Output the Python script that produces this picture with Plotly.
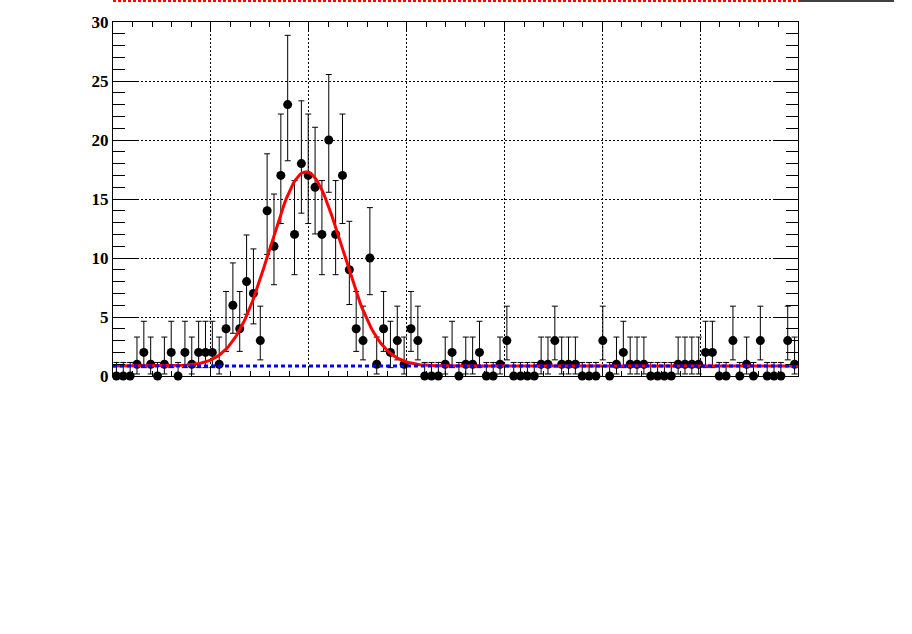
import numpy as np
import plotly.graph_objects as go

# ---- data -------------------------------------------------------------
X_MIN, X_MAX, N_BINS = 0.0, 7.0, 100
counts = [0, 0, 0, 1, 2, 1, 0, 1, 2, 0,
          2, 1, 2, 2, 2, 1, 4, 6, 4, 8,
          7, 3, 14, 11, 17, 23, 12, 18, 17, 16,
          12, 20, 12, 17, 9, 4, 3, 10, 1, 4,
          2, 3, 1, 4, 3, 0, 0, 0, 1, 2,
          0, 1, 1, 2, 0, 0, 1, 3, 0, 0,
          0, 0, 1, 1, 3, 1, 1, 1, 0, 0,
          0, 3, 0, 1, 2, 1, 1, 1, 0, 0,
          0, 0, 1, 1, 1, 1, 2, 2, 0, 0,
          3, 0, 1, 0, 3, 0, 0, 0, 3, 1]

# Poisson (Garwood 68%) interval table indexed by count
poisson_lo = [0.0, 0.173, 0.708, 1.367, 2.086, 2.840, 3.620, 4.419, 5.232, 6.057,
              6.891, 7.734, 8.585, 9.441, 10.30, 11.17, 12.04, 12.92, 13.80, 14.68,
              15.57, 16.45, 17.35, 18.24]
poisson_hi = [1.148, 3.300, 4.638, 5.918, 7.163, 8.382, 9.584, 10.77, 11.95, 13.11,
              14.27, 15.42, 16.56, 17.70, 18.83, 19.96, 21.08, 22.20, 23.32, 24.44,
              25.55, 26.66, 27.76, 28.87]

# fit: gaussian + constant
fit_const = 0.85
fit_amp = 16.45
fit_mean = 1.972
fit_sigma = 0.369

y_ticks = [0, 5, 10, 15, 20, 25, 30]
y_tick_labels = ["0", "5", "10", "15", "20", "25", "30"]

# ---- derived ----------------------------------------------------------
edges = np.linspace(X_MIN, X_MAX, N_BINS + 1)
centers = 0.5 * (edges[:-1] + edges[1:])
err_up = [poisson_hi[n] - n for n in counts]
err_dn = [n - poisson_lo[n] for n in counts]

xf = np.linspace(X_MIN, X_MAX, 400)
yf = fit_const + fit_amp * np.exp(-0.5 * ((xf - fit_mean) / fit_sigma) ** 2)

fig = go.Figure()
fig.add_trace(go.Scatter(
    x=centers, y=counts, mode="markers",
    marker=dict(symbol="circle", size=9, color="black"),
    error_y=dict(type="data", symmetric=False, array=err_up, arrayminus=err_dn,
                 color="black", thickness=1, width=3),
    cliponaxis=False, showlegend=False, hoverinfo="skip"))
fig.add_trace(go.Scatter(
    x=xf, y=yf, mode="lines", line=dict(color="#ff0000", width=3),
    showlegend=False, hoverinfo="skip"))
fig.add_trace(go.Scatter(
    x=[X_MIN, X_MAX], y=[fit_const, fit_const], mode="lines",
    line=dict(color="#0000ff", width=3, dash="4px,3px"),
    showlegend=False, hoverinfo="skip"))

# stray lines at top of canvas (from an upper pad)
plot_l, plot_r, plot_t, plot_b = 113, 798, 22, 376
pw, ph = plot_r - plot_l, plot_b - plot_t
def px_x(p):
    return (p - plot_l) / pw
def px_y(p):
    return (plot_b - p) / ph
fig.add_shape(type="line", xref="paper", yref="paper",
              x0=px_x(113), x1=px_x(799), y0=px_y(1), y1=px_y(1),
              line=dict(color="#ff0000", width=2, dash="3px,2px"))
fig.add_shape(type="line", xref="paper", yref="paper",
              x0=px_x(799), x1=px_x(894), y0=px_y(1.0), y1=px_y(1.0),
              line=dict(color="black", width=1.6))

fig.update_layout(
    width=912, height=634,
    margin=dict(l=plot_l, r=912 - plot_r, t=plot_t, b=634 - plot_b, pad=0),
    paper_bgcolor="white", plot_bgcolor="white",
    xaxis=dict(range=[X_MIN, X_MAX], showticklabels=False,
               showline=True, linecolor="black", linewidth=1, mirror="ticks",
               ticks="inside", ticklen=10, tickcolor="black", tickwidth=1,
               tick0=0, dtick=1,
               minor=dict(ticks="inside", ticklen=5, dtick=0.2, tickcolor="black",
                          showgrid=False),
               showgrid=True, gridcolor="black", gridwidth=1, griddash="2px,2px",
               zeroline=False),
    yaxis=dict(range=[0, 30],
               tickmode="array", tickvals=y_ticks, ticktext=y_tick_labels,
               showline=True, linecolor="black", linewidth=1, mirror="ticks",
               ticks="inside", ticklen=25, tickcolor="black", tickwidth=1,
               minor=dict(ticks="inside", ticklen=12, dtick=1, tick0=0,
                          tickcolor="black", showgrid=False),
               tickfont=dict(family="Liberation Serif", size=17, color="black",
                             weight="bold"),
               showgrid=True, gridcolor="black", gridwidth=1, griddash="2px,2px",
               zeroline=False),
)

fig.write_html("out.html")
